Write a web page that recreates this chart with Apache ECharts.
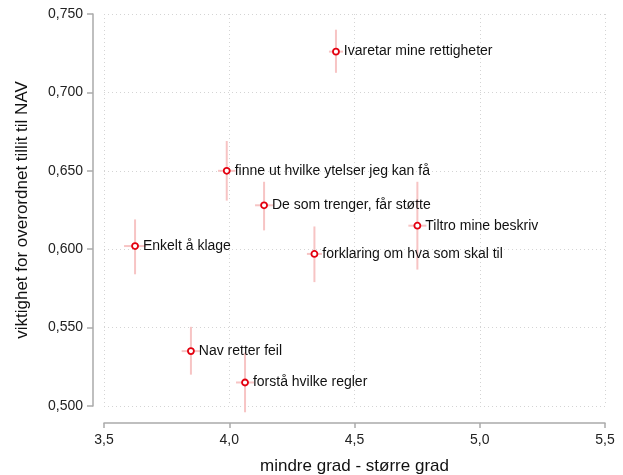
<!DOCTYPE html>
<html><head><meta charset="utf-8">
<script src="https://cdn.jsdelivr.net/npm/echarts@6/dist/echarts.min.js"></script>
<style>html,body{margin:0;padding:0;background:#fff}#c{width:623px;height:475px}</style>
</head><body><div id="c"></div>
<script>
const labels = ["Ivaretar mine rettigheter","finne ut hvilke ytelser jeg kan få","De som trenger, får støtte","Tiltro mine beskriv","forklaring om hva som skal til","Enkelt å klage","Nav retter feil","forstå hvilke regler"];
const xMean = [4.426, 3.990, 4.139, 4.751, 4.340, 3.624, 3.847, 4.063];
const yMean = [0.726, 0.650, 0.628, 0.615, 0.597, 0.602, 0.535, 0.515];
const xLow  = [4.398, 3.955, 4.103, 4.715, 4.310, 3.580, 3.810, 4.027];
const xHigh = [4.454, 4.025, 4.175, 4.787, 4.370, 3.668, 3.884, 4.099];
const yLow  = [0.7125, 0.631, 0.612, 0.587, 0.579, 0.584, 0.520, 0.496];
const yHigh = [0.740, 0.669, 0.643, 0.643, 0.6145, 0.619, 0.5505, 0.534];
const xTicks = [3.5, 4.0, 4.5, 5.0, 5.5];
const yTicks = [0.50, 0.55, 0.60, 0.65, 0.70, 0.75];

const errData = labels.map((l, i) => [xMean[i], yMean[i], xLow[i], xHigh[i], yLow[i], yHigh[i]]);
const ptData = labels.map((l, i) => ({value: [xMean[i], yMean[i]], name: l}));
const FONT = '"Liberation Sans", Arial, Helvetica, sans-serif';
const errColor = '#f7c4c4';

const chart = echarts.init(document.getElementById('c'), null, {renderer: 'canvas'});
chart.setOption({
  animation: false,
  backgroundColor: '#fff',
  grid: {left: 104, right: 18, top: 14, bottom: 69, containLabel: false, outerBoundsMode: 'none'},
  xAxis: {
    type: 'value', min: xTicks[0], max: xTicks[xTicks.length - 1], interval: 0.5,
    offset: 17,
    name: 'mindre grad - større grad', nameLocation: 'middle', nameGap: 35,
    nameTextStyle: {fontFamily: FONT, fontSize: 17, color: '#111'},
    axisLine: {show: true, lineStyle: {color: '#aaaaaa', width: 1.5}},
    axisTick: {show: true, length: 5, lineStyle: {color: '#aaaaaa', width: 1.5}},
    axisLabel: {margin: 10, fontFamily: FONT, fontSize: 14, color: '#222',
      formatter: v => v.toFixed(1).replace('.', ',')},
    splitLine: {show: true, lineStyle: {color: '#d4d4d4', type: [1, 3], width: 1}}
  },
  yAxis: {
    type: 'value', min: yTicks[0], max: yTicks[yTicks.length - 1], interval: 0.05,
    offset: 11,
    name: 'viktighet for overordnet tillit til NAV', nameLocation: 'middle', nameGap: 62,
    nameTextStyle: {fontFamily: FONT, fontSize: 17, color: '#111'},
    axisLine: {show: true, lineStyle: {color: '#aaaaaa', width: 1.5}},
    axisTick: {show: true, length: 6, lineStyle: {color: '#aaaaaa', width: 1.5}},
    axisLabel: {margin: 10, fontFamily: FONT, fontSize: 14, color: '#222',
      formatter: v => v.toFixed(3).replace('.', ',')},
    splitLine: {show: true, lineStyle: {color: '#d4d4d4', type: [1, 3], width: 1}}
  },
  series: [
    {
      type: 'custom',
      data: errData,
      z: 1,
      renderItem: function (params, api) {
        const x = api.value(0), y = api.value(1);
        const a = api.coord([api.value(2), y]);
        const b = api.coord([api.value(3), y]);
        const c = api.coord([x, api.value(4)]);
        const d = api.coord([x, api.value(5)]);
        return {type: 'group', children: [
          {type: 'line', shape: {x1: a[0], y1: a[1], x2: b[0], y2: b[1]}, style: {stroke: errColor, lineWidth: 2}},
          {type: 'line', shape: {x1: c[0], y1: c[1], x2: d[0], y2: d[1]}, style: {stroke: errColor, lineWidth: 2}}
        ]};
      }
    },
    {
      type: 'scatter',
      data: ptData,
      z: 3,
      symbol: 'circle', symbolSize: 6,
      itemStyle: {color: '#fff', borderColor: '#e3000f', borderWidth: 1.8, opacity: 1},
      label: {show: true, position: 'right', distance: 4, formatter: p => p.name,
        fontFamily: FONT, fontSize: 14, color: '#111'}
    }
  ]
});
</script>
</body></html>
